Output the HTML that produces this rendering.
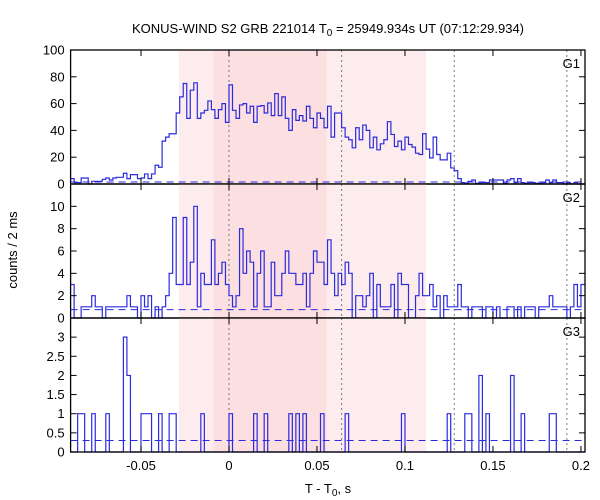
<!DOCTYPE html>
<html><head><meta charset="utf-8"><style>
body{margin:0;background:#fff;}
svg{display:block;font-family:"Liberation Sans","DejaVu Sans",sans-serif;}
</style></head><body>
<svg id="chart" width="600" height="500" viewBox="0 0 600 500"></svg>
<script>
const binStart = -0.090;
const binWidth = 0.002;
const g1Counts = [4,1,1,4.5,4.5,0,2,2,2,3.5,4.5,3,4.5,5,5,8,4,7,7,4,4.5,7.5,4,7.5,14,12.5,32,35,37.5,37.5,53,65,75,49,70,75.5,49,53,55,62,55.5,49,55.5,60,46,74,55,49,59,60,53,58,46,58,58.5,53,60.5,51,67.5,51,65,49,40,55.5,47.5,51,47,58,49,42,53,49,42,58,35,53,53,42,35,33,27,42,33,44,40,27,35,25.5,30,33,46.5,37,28,32,25.5,35,29.5,27.5,23,22,37.5,26,19.5,35,22,18,18,23,12,10,4,1,0.5,2,3,0.5,1,1,1,3,3,3,3,0.5,3,4,1,4,1,0.5,1,1,0.5,0.5,1,3,1,3,1,1,0,1,0,1,0,0];
const g2Counts = [3,0,0,1,1,1,2,1,1,0,1,1,1,1,1,1,2,1,1,0,2,1,2,0,1,0,1,2,4,9,3,3,9,3,5,10,1,4,3,3,7,3,4,5,3,2,1,2,8,4,6,5,1,4,6,1,1,5,2,2,4,6,4,4,3,3,4,1,4,6,5,5,3,7,4,2,4,3,5,4,0,2,2,1,2,4,0,3,1,1,1,3,0,4,3,3,0,0,2,4,2,2,3,1,2,0,2,1,1,1,3,1,1,0,1,1,1,0,1,1,0,1,0,0,1,1,0,1,0,1,1,1,0,1,1,1,2,1,1,1,1,0,1,3,1,3];
const g3Bins = [2,3,6,10,15,16,20,21,22,25,28,29,37,45,52,55,62,64,66,71,78,94,107,112,113,116,118,125,128,136,137];
const g3BinValues = [1,1,1,1,3,2,1,1,1,1,1,1,1,1,1,1,1,1,1,1,1,1,1,1,1,2,1,2,1,1,1];
const backgrounds = [1.5, 0.75, 0.3];
const xTicks = [-0.05,0,0.05,0.1,0.15,0.2];
const xTickLabels = ["-0.05","0","0.05","0.1","0.15","0.2"];
const g1Ticks = [0,20,40,60,80,100];
const g2Ticks = [0,2,4,6,8,10];
const g3Ticks = [0,0.5,1,1.5,2,2.5,3];
const vLines = [0, 0.064, 0.128, 0.192];
const lightBand = [-0.0285, 0.112];
const darkBand = [-0.009, 0.0555];

const NS="http://www.w3.org/2000/svg";
const svg=document.getElementById('chart');
const L=70.6, R=585, XMIN=-0.090, XMAX=0.2023;
const xs=t=>L+(t-XMIN)/(XMAX-XMIN)*(R-L);
function mk(tag,attrs,parent){const e=document.createElementNS(NS,tag);for(const k in attrs)e.setAttribute(k,attrs[k]);(parent||svg).appendChild(e);return e;}

const g3Counts=new Array(146).fill(0);
g3Bins.forEach((b,i)=>{g3Counts[b]=g3BinValues[i];});

const panels=[
 {name:'g1',top:50,bot:184,max:100,counts:g1Counts,ticks:g1Ticks,label:'G1'},
 {name:'g2',top:184,bot:318,max:12,counts:g2Counts,ticks:g2Ticks,label:'G2'},
 {name:'g3',top:318,bot:452,max:3.5,counts:g3Counts,ticks:g3Ticks,label:'G3'}
];

panels.forEach((p,pi)=>{
 const ys=v=>p.bot-v/p.max*(p.bot-p.top);
 const g=mk('g',{});
 
 
 const lb=mk('rect',{x:xs(lightBand[0]),y:p.top,width:xs(lightBand[1])-xs(lightBand[0]),height:p.bot-p.top,fill:'#fdeced'},g);
 
 
 const db=mk('rect',{x:xs(darkBand[0]),y:p.top,width:xs(darkBand[1])-xs(darkBand[0]),height:p.bot-p.top,fill:'#fcdfe0'},g);
 
 
 vLines.forEach(t=>{
  const l=mk('line',{x1:xs(t),x2:xs(t),y1:p.top,y2:p.bot,stroke:'#777','stroke-width':1,'stroke-dasharray':'2,3'},g);
  
  
 });
 const bl=mk('line',{x1:L,x2:R,y1:ys(backgrounds[pi]),y2:ys(backgrounds[pi]),stroke:'#2b2be0','stroke-width':1,'stroke-dasharray':'7,5'},g);
 
 
 let d='';
 p.counts.forEach((v,i)=>{
  const x0=xs(binStart+i*binWidth), x1=xs(binStart+(i+1)*binWidth);
  const y=ys(Math.min(v,p.max));
  d+=(i===0?'M':'L')+x0.toFixed(2)+','+y.toFixed(2)+'L'+Math.min(x1,R).toFixed(2)+','+y.toFixed(2);
 });
 const h=mk('path',{d:d,fill:'none',stroke:'#2b2be0','stroke-width':1.2},g);
 
 
 const fr=mk('rect',{x:L,y:p.top,width:R-L,height:p.bot-p.top,fill:'none',stroke:'#000','stroke-width':1.3},g);
 
 
 p.ticks.forEach(v=>{
  const y=ys(v);
  mk('line',{x1:L,x2:L+6,y1:y,y2:y,stroke:'#000'},g);
  mk('line',{x1:R-6,x2:R,y1:y,y2:y,stroke:'#000'},g);
  const t=mk('text',{x:L-6,y:y+4.5,'text-anchor':'end','font-size':13,fill:'#000'},g);
  t.textContent=String(v);
  
  
 });
 xTicks.forEach(v=>{
  const x=xs(v);
  mk('line',{x1:x,x2:x,y1:p.bot-6,y2:p.bot,stroke:'#000'},g);
  mk('line',{x1:x,x2:x,y1:p.top,y2:p.top+6,stroke:'#000'},g);
 });
 const gl=mk('text',{x:R-5,y:p.top+18,'text-anchor':'end','font-size':13,fill:'#000'},g);
 gl.textContent=p.label;
 
 
});

xTicks.forEach((v,i)=>{
 const t=mk('text',{x:xs(v),y:470,'text-anchor':'middle','font-size':13,fill:'#000'});
 t.textContent=xTickLabels[i];
 
 
});
</script>
<svg width="0" height="0"></svg>
<div style="position:absolute;left:0;top:0;width:600px;height:500px;pointer-events:none;">
<svg width="600" height="500" style="position:absolute;left:0;top:0;font-family:'Liberation Sans','DejaVu Sans',sans-serif;">
<text x="328" y="33" text-anchor="middle" font-size="13" fill="#000">KONUS-WIND S2 GRB 221014 T<tspan font-size="10" dy="3">0</tspan><tspan dy="-3"> = 25949.934s UT (07:12:29.934)</tspan></text>
<text x="17" y="250" text-anchor="middle" font-size="13" fill="#000" transform="rotate(-90 17 250)">counts / 2 ms</text>
<text x="328" y="493" text-anchor="middle" font-size="13" fill="#000">T - T<tspan font-size="10" dy="3">0</tspan><tspan dy="-3">, s</tspan></text>
</svg></div>
</body></html>
